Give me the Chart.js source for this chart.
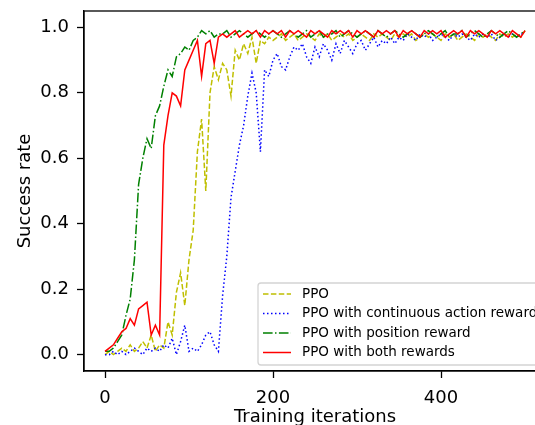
<!DOCTYPE html>
<html>
<head>
<meta charset="utf-8">
<script src="https://cdn.jsdelivr.net/npm/chart.js@4.4.0/dist/chart.umd.min.js"></script>
<style>
  html, body { margin: 0; padding: 0; background: #fff; overflow: hidden; }
  #wrap { width: 560px; height: 429px; }
</style>
</head>
<body>
<div id="wrap"><canvas id="successChart" width="560" height="429"></canvas></div>
<script>
// training iteration of each sample
const iterations = [
  0, 5, 10, 15, 20, 25, 30, 35, 40, 45,
  50, 55, 60, 65, 70, 75, 80, 85, 90, 95,
  100, 105, 110, 115, 120, 125, 130, 135, 140, 145,
  150, 155, 160, 165, 170, 175, 180, 185, 190, 195,
  200, 205, 210, 215, 220, 225, 230, 235, 240, 245,
  250, 255, 260, 265, 270, 275, 280, 285, 290, 295,
  300, 305, 310, 315, 320, 325, 330, 335, 340, 345,
  350, 355, 360, 365, 370, 375, 380, 385, 390, 395,
  400, 405, 410, 415, 420, 425, 430, 435, 440, 445,
  450, 455, 460, 465, 470, 475, 480, 485, 490, 495,
  500
];

const ppo = [
  0.00, 0.01, 0.00, 0.01, 0.02, 0.01, 0.03, 0.01, 0.02, 0.04,
  0.02, 0.06, 0.01, 0.03, 0.02, 0.10, 0.06, 0.19, 0.25, 0.15,
  0.29, 0.38, 0.62, 0.72, 0.50, 0.80, 0.88, 0.84, 0.89, 0.87,
  0.79, 0.93, 0.90, 0.95, 0.92, 0.97, 0.89, 0.96, 0.95, 0.97,
  0.96, 0.97, 0.98, 0.96, 0.97, 0.98, 0.96, 0.97, 0.98, 0.97,
  0.96, 0.98, 0.97, 0.98, 0.96, 0.97, 0.98, 0.97, 0.98, 0.96,
  0.97, 0.98, 0.97, 0.96, 0.98, 0.97, 0.98, 0.97, 0.96, 0.98,
  0.97, 0.98, 0.97, 0.98, 0.96, 0.97, 0.98, 0.97, 0.98, 0.97,
  0.96, 0.98, 0.97, 0.98, 0.96, 0.97, 0.98, 0.97, 0.96, 0.98,
  0.97, 0.98, 0.97, 0.96, 0.98, 0.97, 0.98, 0.97, 0.98, 0.97,
  0.99
];

const ppoAction = [
  0.00, 0.00, 0.01, 0.00, 0.01, 0.00, 0.01, 0.02, 0.01, 0.00,
  0.02, 0.01, 0.02, 0.01, 0.03, 0.02, 0.05, 0.00, 0.04, 0.09,
  0.01, 0.02, 0.01, 0.03, 0.06, 0.07, 0.03, 0.01, 0.18, 0.30,
  0.48, 0.56, 0.64, 0.70, 0.79, 0.86, 0.80, 0.62, 0.87, 0.85,
  0.90, 0.92, 0.88, 0.87, 0.91, 0.94, 0.93, 0.95, 0.91, 0.89,
  0.94, 0.91, 0.95, 0.93, 0.90, 0.95, 0.92, 0.96, 0.94, 0.92,
  0.95, 0.96, 0.93, 0.95, 0.97, 0.94, 0.96, 0.95, 0.97, 0.95,
  0.97, 0.96, 0.98, 0.97, 0.96, 0.98, 0.97, 0.98, 0.96, 0.97,
  0.98, 0.97, 0.96, 0.98, 0.97, 0.98, 0.97, 0.96, 0.98, 0.97,
  0.98, 0.97, 0.98, 0.96, 0.97, 0.98, 0.97, 0.98, 0.97, 0.98,
  0.98
];

const ppoPosition = [
  0.01, 0.01, 0.02, 0.04, 0.06, 0.12, 0.17, 0.29, 0.52, 0.60,
  0.66, 0.63, 0.73, 0.76, 0.82, 0.87, 0.85, 0.91, 0.92, 0.94,
  0.93, 0.96, 0.97, 0.99, 0.98, 0.99, 0.97, 0.98, 0.98, 0.99,
  0.97, 0.98, 0.99, 0.98, 0.97, 0.98, 0.99, 0.98, 0.97, 0.98,
  0.99, 0.98, 0.97, 0.98, 0.99, 0.98, 0.97, 0.98, 0.99, 0.97,
  0.98, 0.99, 0.97, 0.98, 0.98, 0.99, 0.97, 0.98, 0.99, 0.98,
  0.97, 0.98, 0.99, 0.98, 0.97, 0.99, 0.98, 0.97, 0.98, 0.99,
  0.98, 0.97, 0.98, 0.99, 0.98, 0.97, 0.98, 0.99, 0.98, 0.97,
  0.98, 0.99, 0.97, 0.98, 0.98, 0.99, 0.97, 0.98, 0.99, 0.98,
  0.97, 0.98, 0.99, 0.98, 0.97, 0.98, 0.99, 0.98, 0.97, 0.98,
  0.99
];

const ppoBoth = [
  0.01, 0.02, 0.03, 0.05, 0.07, 0.08, 0.11, 0.09, 0.14, 0.15,
  0.16, 0.06, 0.09, 0.06, 0.64, 0.73, 0.80, 0.79, 0.76, 0.87,
  0.90, 0.93, 0.96, 0.85, 0.95, 0.96, 0.89, 0.97, 0.98, 0.97,
  0.98, 0.99, 0.97, 0.98, 0.99, 0.98, 0.99, 0.97, 0.99, 0.98,
  0.99, 0.98, 0.99, 0.97, 0.99, 0.98, 0.99, 0.98, 0.97, 0.99,
  0.98, 0.99, 0.98, 0.97, 0.99, 0.98, 0.99, 0.98, 0.99, 0.97,
  0.99, 0.98, 0.99, 0.98, 0.97, 0.99, 0.98, 0.99, 0.98, 0.99,
  0.97, 0.99, 0.98, 0.99, 0.98, 0.97, 0.99, 0.98, 0.99, 0.98,
  0.99, 0.97, 0.98, 0.99, 0.98, 0.99, 0.97, 0.99, 0.98, 0.99,
  0.98, 0.97, 0.99, 0.98, 0.99, 0.98, 0.97, 0.99, 0.98, 0.97,
  0.99
];

const seriesLabels = [
  'PPO',
  'PPO with continuous action reward',
  'PPO with position reward',
  'PPO with both rewards'
];
const xTicks = [0, 200, 400];
const yTicks = [0, 0.2, 0.4, 0.6, 0.8, 1.0];

function points(values) {
  return iterations.map((x, i) => ({ x: x, y: values[i] }));
}

Chart.defaults.font.family = '"DejaVu Sans", sans-serif';
Chart.defaults.color = '#000';

// box around the axes plus a matplotlib style legend in the lower right corner
const frameAndLegend = {
  id: 'frameAndLegend',
  afterDatasetsDraw(chart) {
    const ctx = chart.ctx;
    const a = chart.chartArea;
    ctx.save();
    ctx.strokeStyle = '#000';
    ctx.lineWidth = 1.3;
    ctx.strokeRect(a.left, a.top, a.right - a.left, a.bottom - a.top);

    const sets = chart.data.datasets;
    ctx.font = '13.5px "DejaVu Sans"';
    const textW = Math.max(...sets.map(d => ctx.measureText(d.label).width));
    const rowH = 19.5;
    const w = 44 + textW + 8;
    const h = rowH * sets.length + 4;
    const x0 = a.left + 174;
    const y0 = a.bottom - 6 - h;
    ctx.beginPath();
    ctx.roundRect(x0, y0, w, h, 3);
    ctx.fillStyle = 'rgba(255,255,255,0.8)';
    ctx.fill();
    ctx.strokeStyle = '#d4d4d4';
    ctx.lineWidth = 1.3;
    ctx.stroke();

    sets.forEach((d, i) => {
      const cy = y0 + 11 + i * rowH;
      ctx.beginPath();
      ctx.setLineDash(d.borderDash || []);
      ctx.strokeStyle = d.borderColor;
      ctx.lineWidth = d.borderWidth;
      ctx.moveTo(x0 + 5, cy);
      ctx.lineTo(x0 + 33, cy);
      ctx.stroke();
      ctx.setLineDash([]);
      ctx.fillStyle = '#000';
      ctx.textBaseline = 'middle';
      ctx.textAlign = 'left';
      ctx.fillText(d.label, x0 + 44, cy);
    });
    ctx.restore();
  }
};

new Chart(document.getElementById('successChart'), {
  type: 'line',
  data: {
    datasets: [
      { label: seriesLabels[0], data: points(ppo), borderColor: '#bfbf00',
        borderDash: [5.5, 2.4], borderWidth: 1.5, order: 3 },
      { label: seriesLabels[1], data: points(ppoAction), borderColor: '#0000ff',
        borderDash: [1.5, 2.5], borderWidth: 1.5, order: 2 },
      { label: seriesLabels[2], data: points(ppoPosition), borderColor: '#008000',
        borderDash: [9.6, 2.4, 1.5, 2.4], borderWidth: 1.5, order: 1 },
      { label: seriesLabels[3], data: points(ppoBoth), borderColor: '#ff0000',
        borderWidth: 1.5, order: 0 }
    ]
  },
  options: {
    responsive: false,
    animation: false,
    layout: { padding: { top: 11, right: 14, left: 0, bottom: 0 } },
    elements: { point: { radius: 0 }, line: { tension: 0, fill: false } },
    plugins: { legend: { display: false }, tooltip: { enabled: false } },
    scales: {
      x: {
        type: 'linear',
        min: -25,
        max: 525,
        afterBuildTicks: scale => { scale.ticks = xTicks.map(v => ({ value: v })); },
        afterFit: scale => { scale.height = 58; },
        ticks: { font: { size: 18 }, padding: 10, maxRotation: 0,
                 callback: v => String(v) },
        grid: { drawOnChartArea: false, drawTicks: true, tickLength: 7,
                tickColor: '#000', tickWidth: 1.3 },
        border: { display: true, color: '#000', width: 1.3 },
        title: { display: true, text: 'Training iterations', font: { size: 18 },
                 padding: { top: 0, bottom: 1 } }
      },
      y: {
        type: 'linear',
        min: -0.05,
        max: 1.05,
        afterBuildTicks: scale => { scale.ticks = yTicks.map(v => ({ value: v })); },
        afterFit: scale => {
          scale.width = 84;
          scale.paddingTop = 0;
          scale.paddingBottom = 0;
        },
        ticks: { font: { size: 18 }, padding: 8, callback: v => v.toFixed(1) },
        grid: { drawOnChartArea: false, drawTicks: true, tickLength: 7,
                tickColor: '#000', tickWidth: 1.3 },
        border: { display: true, color: '#000', width: 1.3 },
        title: { display: true, text: 'Success rate', font: { size: 18 },
                 padding: { top: 15, bottom: 0 } }
      }
    }
  },
  plugins: [frameAndLegend]
});
</script>
</body>
</html>
